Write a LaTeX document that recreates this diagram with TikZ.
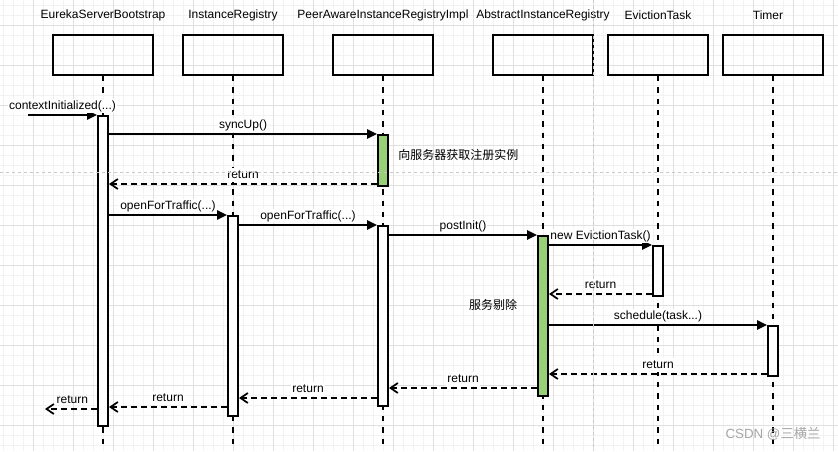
\documentclass[tikz,border=0pt]{standalone}
\usepackage{fontspec}
\setmainfont{Liberation Sans}
\newfontfamily\cjk{Noto Sans CJK SC}
\usetikzlibrary{arrows.meta}
\definecolor{gmin}{HTML}{F2F2F2}
\definecolor{gmaj}{HTML}{E0E0E0}
\definecolor{actgreen}{HTML}{97D077}
\definecolor{pagebrk}{HTML}{C8C8C8}
\definecolor{wm}{HTML}{A6A6A6}
\tikzset{
  x=0.75pt, y=-0.75pt,
  every node/.style={font=\fontsize{9}{11}\selectfont, text=black},
  head/.style={draw, line width=1.5pt, minimum width=75pt, minimum height=30pt, inner sep=0pt},
  title/.style={inner sep=0pt},
  lifeline/.style={line width=1.5pt, dash pattern=on 4pt off 4.5pt},
  bar/.style={draw, line width=1.5pt, fill=white, minimum width=7.5pt, inner sep=0pt, anchor=north},
  gbar/.style={bar, fill=actgreen},
  msg/.style={line width=1.5pt, -{Triangle[length=7.5pt,width=7pt]}},
  ret/.style={line width=1.5pt, dash pattern=on 4.5pt off 3pt, -{Straight Barb[length=5.5pt,width=7.5pt,line width=1.3pt]}},
  lbl/.style={above, inner sep=0.8pt, fill=white, yshift=0.6pt, text height=6.8pt, text depth=2pt},
}
\begin{document}
\begin{tikzpicture}
\useasboundingbox (0,0) rectangle (838,451);
\fill[white] (0,0) rectangle (838,451);
% grid
\foreach \gx in {3,13,...,833} \draw[gmin, line width=0.75pt] (\gx,0) -- (\gx,451);
\foreach \gy in {5,15,...,445} \draw[gmin, line width=0.75pt] (0,\gy) -- (838,\gy);
\foreach \gx in {33,73,...,833} \draw[gmaj, line width=0.75pt] (\gx,0) -- (\gx,451);
\foreach \gy in {25,65,...,445} \draw[gmaj, line width=0.75pt] (0,\gy) -- (838,\gy);

% titles
\node[title] (t1) at (103,15) {EurekaServerBootstrap};
\node[title] (t2) at (233,15) {InstanceRegistry};
\node[title] (t3) at (383,15) {PeerAwareInstanceRegistryImpl};
\node[title] (t4) at (543,15) {AbstractInstanceRegistry};
\node[title] (t5) at (658,15) {EvictionTask};
\node[title] (t6) at (768,15) {Timer};

% header boxes
\node[head] (h1) at (103,55) {};
\node[head] (h2) at (233,55) {};
\node[head] (h3) at (383,55) {};
\node[head] (h4) at (543,55) {};
\node[head] (h5) at (658,55) {};
\node[head] (h6) at (773,55) {};

% lifeline ends
\coordinate (e1) at (103,446);
\coordinate (e2) at (233,446);
\coordinate (e3) at (383,446);
\coordinate (e4) at (543,446);
\coordinate (e5) at (658,446);
\coordinate (e6) at (773,446);
\draw[lifeline] (h1.south) -- (e1);
\draw[lifeline] (h2.south) -- (e2);
\draw[lifeline] (h3.south) -- (e3);
\draw[lifeline] (h4.south) -- (e4);
\draw[lifeline] (h5.south) -- (e5);
\draw[lifeline] (h6.south) -- (e6);

% activation bars
\node[bar,  minimum height=232.5pt] (b1)  at (103,115) {};
\node[bar,  minimum height=150pt]   (ir1) at (233,215) {};
\node[gbar, minimum height=38.25pt] (pa1) at (383,134) {};
\node[bar,  minimum height=135pt]   (pa2) at (383,225) {};
\node[gbar, minimum height=120pt]   (ab1) at (543,235) {};
\node[bar,  minimum height=37.5pt]  (ev1) at (658,245) {};
\node[bar,  minimum height=37.5pt]  (tm1) at (773,325) {};

% messages
\coordinate (ctx) at (28,115);
\draw[msg] (ctx) -- node[lbl] {contextInitialized(...)} (b1.north west);
\draw[msg] (b1.east |- pa1.north) -- node[lbl] {syncUp()} (pa1.north west);
\draw[ret] ([yshift=2.25pt]pa1.south west) coordinate (r1) -- node[lbl] {return} (b1.east |- r1);
\node[anchor=west, inner sep=0pt] (note1) at (398,155) {\cjk 向服务器获取注册实例};
\draw[msg] (b1.east |- ir1.north) -- node[lbl] {openForTraffic(...)} (ir1.north west);
\draw[msg] (ir1.east |- pa2.north) -- node[lbl] {openForTraffic(...)} (pa2.north west);
\draw[msg] (pa2.east |- ab1.north) -- node[lbl] {postInit()} (ab1.north west);
\draw[msg] (ab1.east |- ev1.north) -- node[lbl] {new EvictionTask()} (ev1.north west);
\draw[ret] ([yshift=2.25pt]ev1.south west) coordinate (r2) -- node[lbl] {return} (ab1.east |- r2);
\node[inner sep=0pt] (note2) at (493,305) {\cjk 服务剔除};
\draw[msg] (ab1.east |- tm1.north) -- node[lbl] {schedule(task...)} (tm1.north west);
\draw[ret] ([yshift=2.25pt]tm1.south west) coordinate (r3) -- node[lbl] {return} (ab1.east |- r3);
\draw[ret] ([yshift=6.75pt]ab1.south west) coordinate (r4) -- node[lbl] {return} (pa2.east |- r4);
\draw[ret] ([yshift=6.75pt]pa2.south west) coordinate (r5) -- node[lbl] {return} (ir1.east |- r5);
\draw[ret] ([yshift=7.5pt]ir1.south west) coordinate (r6) -- node[lbl] {return} (b1.east |- r6);
\coordinate (out) at (45,409);
\draw[ret] (b1.west |- out) -- node[lbl, xshift=1pt, fill=none] {return} (out);

% page breaks (overlay)
\draw[pagebrk, line width=0.75pt, dash pattern=on 2.25pt off 2.25pt] (0,172) -- (838,172);
\draw[pagebrk, line width=0.75pt, dash pattern=on 2.25pt off 2.25pt] (593,0) -- (593,451);

% watermark
\node[inner sep=0pt, text=wm, font=\fontsize{10}{12}\selectfont] (wmk) at (773,434) {CSDN @{\cjk 三横兰}};
\end{tikzpicture}
\end{document}
